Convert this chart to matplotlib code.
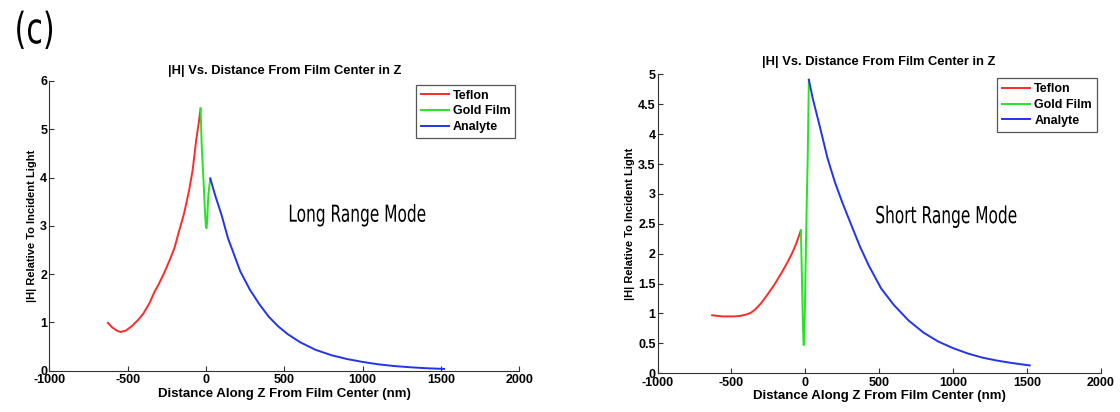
import matplotlib
matplotlib.use("Agg")
import matplotlib.pyplot as plt
from matplotlib import patheffects
from matplotlib.transforms import Affine2D

# ---------------- data ----------------
# Long range mode (left)
lr_teflon_x = [-626, -600, -570, -544, -510, -470, -430, -400, -360, -330, -300, -267,
               -230, -200, -175, -140, -107, -85, -62, -45, -34]
lr_teflon_y = [0.99, 0.90, 0.83, 0.80, 0.83, 0.93, 1.06, 1.18, 1.40, 1.62, 1.80, 2.02,
               2.30, 2.55, 2.85, 3.25, 3.74, 4.15, 4.78, 5.15, 5.43]
lr_gold_x = [-34, -31, -28, -24, -18, -12, -6, -1, 3, 7, 11, 15, 20, 24, 28]
lr_gold_y = [5.43, 5.10, 4.75, 4.45, 4.10, 3.70, 3.30, 3.02, 2.95, 3.05, 3.35, 3.62, 3.78, 3.88, 3.98]
lr_analyte_x = [28, 60, 100, 140, 180, 220, 280, 340, 400, 460, 520, 600, 700, 800, 900,
                1000, 1100, 1200, 1300, 1400, 1520]
lr_analyte_y = [3.98, 3.62, 3.22, 2.75, 2.40, 2.05, 1.68, 1.38, 1.12, 0.92, 0.76, 0.59, 0.43,
                0.32, 0.24, 0.18, 0.13, 0.095, 0.07, 0.05, 0.035]

# Short range mode (right)
sr_teflon_x = [-631, -600, -560, -523, -480, -440, -402, -370, -342, -300, -258, -210,
               -161, -120, -89, -60, -36, -30]
sr_teflon_y = [0.97, 0.96, 0.95, 0.95, 0.95, 0.96, 0.98, 1.01, 1.06, 1.17, 1.31, 1.48,
               1.68, 1.86, 2.01, 2.18, 2.35, 2.39]
sr_gold_x = [-30, -27, -22, -18, -14, -11, -8, -5, 0, 4, 10, 16, 20, 24]
sr_gold_y = [2.39, 2.06, 1.50, 1.00, 0.65, 0.47, 0.55, 0.78, 1.50, 2.12, 2.90, 3.57, 4.25, 4.91]
sr_analyte_x = [24, 50, 99, 150, 200, 250, 300, 370, 430, 513, 600, 700, 800, 900, 1000,
                1100, 1200, 1300, 1400, 1520]
sr_analyte_y = [4.91, 4.60, 4.12, 3.60, 3.20, 2.86, 2.55, 2.12, 1.80, 1.42, 1.14, 0.88,
                0.68, 0.53, 0.42, 0.33, 0.26, 0.21, 0.17, 0.13]

series_names = ["Teflon", "Gold Film", "Analyte"]
title_text = "|H| Vs. Distance From Film Center in Z"
xlabel_text = "Distance Along Z From Film Center (nm)"
ylabel_text = "|H| Relative To Incident Light"
x_ticks = [-1000, -500, 0, 500, 1000, 1500, 2000]
lr_y_ticks = [0, 1, 2, 3, 4, 5, 6]
sr_y_ticks = [0, 0.5, 1, 1.5, 2, 2.5, 3, 3.5, 4, 4.5, 5]
sr_y_ticklabels = ["0", "0.5", "1", "1.5", "2", "2.5", "3", "3.5", "4", "4.5", "5"]

# ---------------- styling ----------------
plt.rcParams['font.family'] = ['Liberation Sans', 'DejaVu Sans']


class HStretch(patheffects.AbstractPathEffect):
    """Draw text glyphs horizontally condensed around the text's anchor."""

    def __init__(self, sx):
        super().__init__()
        self.sx = sx

    def draw_path(self, renderer, gc, tpath, affine, rgbFace=None):
        m = affine.get_matrix()
        tx, ty = m[0, 2], m[1, 2]
        aff = affine + Affine2D().translate(-tx, -ty).scale(self.sx, 1.0).translate(tx, ty)
        renderer.draw_path(gc, tpath, aff, rgbFace)


colors = ['#ff2a2a', '#22e622', '#2233ee']

fig = plt.figure(figsize=(11.2, 4.12), dpi=100)
ax1 = fig.add_axes([0.0440, 0.1005, 0.4196, 0.7029])
ax2 = fig.add_axes([0.5872, 0.0942, 0.3955, 0.7252])


def style(ax, yticks, ylim, yticklabels=None):
    ax.set_xlim(-1000, 2000)
    ax.set_ylim(*ylim)
    ax.set_xticks(x_ticks)
    ax.set_xticklabels([str(t) for t in x_ticks])
    ax.set_yticks(yticks)
    if yticklabels is not None:
        ax.set_yticklabels(yticklabels)
    for s in ['top', 'right']:
        ax.spines[s].set_visible(False)
    for s in ['left', 'bottom']:
        ax.spines[s].set_color('#333333')
        ax.spines[s].set_linewidth(0.8)
    ax.tick_params(direction='in', length=3.5, width=0.8, color='#333333',
                   labelsize=9, pad=1.5)
    ax.tick_params(axis='x', pad=2.5)
    for lab in ax.get_xticklabels() + ax.get_yticklabels():
        lab.set_fontweight('bold')
    ax.set_xlabel(xlabel_text, fontsize=9.5, fontweight='bold', labelpad=1.2)
    ax.set_ylabel(ylabel_text, fontsize=8, fontweight='bold', labelpad=2)


lw = 1.4
ax1.plot(lr_teflon_x, lr_teflon_y, color=colors[0], lw=lw, label=series_names[0])
ax1.plot(lr_gold_x, lr_gold_y, color=colors[1], lw=lw, label=series_names[1])
ax1.plot(lr_analyte_x, lr_analyte_y, color=colors[2], lw=lw, label=series_names[2])
style(ax1, lr_y_ticks, (0, 6))
ax1.set_title(title_text, fontsize=9.3, fontweight='bold', pad=5)
ax1.text(526, 3.22, "Long Range Mode", family='DejaVu Sans', fontsize=16.8,
         va='center', ha='left', path_effects=[HStretch(0.66)])

ax2.plot(sr_teflon_x, sr_teflon_y, color=colors[0], lw=lw, label=series_names[0])
ax2.plot(sr_gold_x, sr_gold_y, color=colors[1], lw=lw, label=series_names[1])
ax2.plot(sr_analyte_x, sr_analyte_y, color=colors[2], lw=lw, label=series_names[2])
style(ax2, sr_y_ticks, (0, 5), sr_y_ticklabels)
ax2.set_title(title_text, fontsize=9.3, fontweight='bold', pad=7)
ax2.text(474, 2.62, "Short Range Mode", family='DejaVu Sans', fontsize=16.8,
         va='center', ha='left', path_effects=[HStretch(0.66)])

for ax in (ax1, ax2):
    leg = ax.legend(loc='upper right', fancybox=False, framealpha=1,
                    edgecolor='#555555', prop={'weight': 'bold', 'size': 9},
                    handlelength=2.25, handletextpad=0.3, borderpad=0.4,
                    labelspacing=0.3, borderaxespad=0.3)
    leg.get_frame().set_linewidth(0.9)

fig.text(0.013, 0.975, "(c)", family='DejaVu Sans', fontsize=31, va='top', ha='left',
         path_effects=[HStretch(0.70)])

fig.savefig("out.png", dpi=100)
